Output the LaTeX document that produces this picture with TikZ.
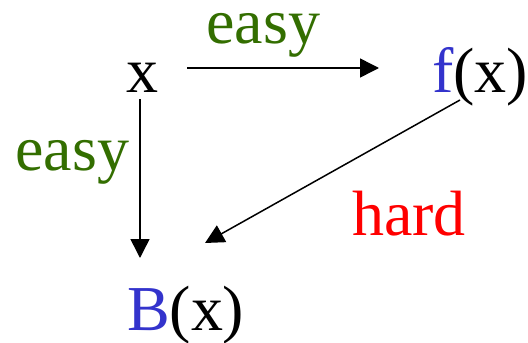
\documentclass[tikz,border=0pt]{standalone}
\usepackage{fontspec}
\setmainfont{Liberation Serif}
\usetikzlibrary{arrows.meta}
\definecolor{easygreen}{HTML}{336E00}
\definecolor{fblue}{HTML}{3333CC}
\tikzset{
  lbl/.style={anchor=base west, inner sep=0pt, outer sep=0pt, font=\fontsize{64}{70}\selectfont},
  arr/.style={line width=1.5pt, -{Triangle[length=19pt,width=19pt]}}
}
\begin{document}
\begin{tikzpicture}[x=1pt,y=-1pt]
\useasboundingbox (0,0) rectangle (528,343);
\node[lbl] (x) at (126,92) {x};
\node[lbl] (fx) at (432,92) {\textcolor{fblue}{f}(x)};
\node[lbl] (Bx) at (127,330) {\textcolor{fblue}{B}(x)};
\node[lbl, text=easygreen] (e1) at (206.5,43) {easy};
\node[lbl, text=easygreen] (e2) at (15.5,170) {easy};
\node[lbl, text=red] (h) at (352,235) {hard};
\draw[arr] ([xshift=29pt,yshift=24pt]x.base east) -- ([xshift=-53pt,yshift=24pt]fx.base west);
\draw[arr] ([xshift=14pt,yshift=-7pt]x.base west) -- ([xshift=13pt,yshift=72pt]Bx.base west);
\draw[arr] ([xshift=28pt,yshift=-8pt]fx.base west) -- ([xshift=78pt,yshift=87pt]Bx.base west);
\end{tikzpicture}
\end{document}
